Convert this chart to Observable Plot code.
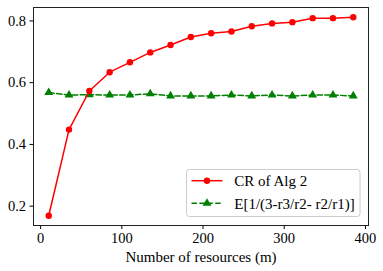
<!DOCTYPE html>
<html><head><meta charset="utf-8">
<script src="https://cdn.jsdelivr.net/npm/d3@7"></script>
<script src="https://cdn.jsdelivr.net/npm/@observablehq/plot@0.6"></script>
<style>body{margin:0;background:#fff}</style>
</head><body><div id="chart"></div>
<script>
const resources = [10,35,60,85,110,135,160,185,210,235,260,285,310,335,360,385];
const crAlg2 = [0.169,0.448,0.573,0.634,0.666,0.698,0.722,0.748,0.760,0.766,0.783,0.792,0.796,0.809,0.809,0.812];
const expectation = [0.568,0.560,0.561,0.560,0.560,0.564,0.557,0.557,0.557,0.560,0.557,0.560,0.557,0.560,0.560,0.557];
const xTicks = [0,100,200,300,400];
const yTicks = [0.2,0.4,0.6,0.8];
const seriesNames = ["CR of Alg 2","E[1/(3-r3/r2- r2/r1)]"];
const xLabel = "Number of resources (m)";

const red = resources.map((m,i)=>({m, v: crAlg2[i]}));
const green = resources.map((m,i)=>({m, v: expectation[i]}));

const plot = Plot.plot({
  width: 383, height: 271,
  marginLeft: 33, marginRight: 15, marginTop: 7, marginBottom: 46,
  style: {fontFamily: "'Liberation Serif', serif", fontSize: "14.5px", background: "#fff", color: "#000"},
  x: {domain: [-8.75, 403.75], ticks: xTicks, tickSize: 4, tickPadding: 3, label: null, tickFormat: d3.format("d")},
  y: {domain: [0.1374, 0.8435], ticks: yTicks, tickSize: 3.5, tickPadding: 4, label: null, tickFormat: d3.format(".1f")},
  marks: [
    Plot.line(green, {x:"m", y:"v", stroke:"#008000", strokeWidth:1.5, strokeDasharray:"5.5,2.4"}),
    Plot.dot(green, {x:"m", y:"v", fill:"#008000", symbol:"triangle", r:3.3}),
    Plot.line(red, {x:"m", y:"v", stroke:"#ff0000", strokeWidth:1.5}),
    Plot.dot(red, {x:"m", y:"v", fill:"#ff0000", r:3.2}),
    Plot.frame({stroke:"#222", strokeWidth:1}),
    Plot.text([xLabel], {text: d=>d, frameAnchor:"bottom", dy: 36, fontSize: 15, fill:"#000"})
  ]
});
document.getElementById("chart").appendChild(plot);

const svg = d3.select(plot);
svg.selectAll("g[font-variant]").attr("font-variant", null);

// legend
const g = svg.append("g").attr("font-size",15).attr("text-anchor","start");
g.append("rect").attr("x",186.5).attr("y",169.5).attr("width",173.5).attr("height",47)
  .attr("rx",3).attr("fill","#fff").attr("fill-opacity",0.8).attr("stroke","#ccc");
const items = [
  {name: seriesNames[0], color:"#ff0000", dash:null, sym:"circle", y:180.7},
  {name: seriesNames[1], color:"#008000", dash:"5.5,2.4", sym:"triangle", y:203.3}
];
items.forEach(it=>{
  g.append("line").attr("x1",191.5).attr("x2",222.5).attr("y1",it.y).attr("y2",it.y)
    .attr("stroke",it.color).attr("stroke-width",1.5).attr("stroke-dasharray",it.dash);
  const s = it.sym==="circle" ? d3.symbolCircle : d3.symbolTriangle;
  const size = it.sym==="circle" ? Math.PI*3.2*3.2 : 3.3*3.3*Math.PI;
  g.append("path").attr("d", d3.symbol(s, size)()).attr("transform",`translate(207,${it.y})`).attr("fill",it.color);
  g.append("text").attr("x",234.3).attr("y",it.y).attr("dy","0.35em").attr("fill","#000").text(it.name);
});
</script></body></html>
